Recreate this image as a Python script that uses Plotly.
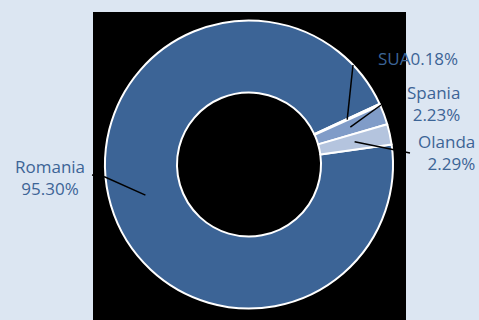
import math
import plotly.graph_objects as go

# date
tari = ['Romania', 'SUA', 'Spania', 'Olanda']
procente = [95.30, 0.18, 2.23, 2.29]
culori = ['#3C6496', '#DCE6F2', '#809CC8', '#B4C4DE']
etichete = ['Romania<br>95.30%', 'SUA0.18%', 'Spania<br>2.23%', 'Olanda<br>2.29%']

W, H = 479, 320
BG = '#DCE6F2'
TXT = '#3C6496'

# pie geometry in pixels
cx, cy, R = 249, 164.5, 144
rotatie = 82  # degrees clockwise from 12 o'clock

def px(x):
    return x / W

def py(y):
    return (H - y) / H

fig = go.Figure()
fig.add_trace(go.Pie(
    labels=tari,
    values=procente,
    hole=0.5,
    sort=False,
    direction='clockwise',
    rotation=rotatie,
    marker=dict(colors=culori, line=dict(color='white', width=2)),
    textinfo='none',
    hoverinfo='label+percent',
    showlegend=False,
    domain=dict(x=[px(cx - R), px(cx + R)], y=[py(cy + R), py(cy - R)]),
))

# black plot area behind the donut
shapes = [dict(type='rect', xref='paper', yref='paper', layer='below',
               x0=px(93), x1=px(406), y0=0, y1=py(12),
               fillcolor='black', line=dict(width=0))]

# leader lines: inner end at mid angle of each slice
total = sum(procente)
capete = {  # outer end (and optional elbow) of each leader line, pixels
    'Romania': [(105, 177), (92, 175)],
    'SUA': [(353, 65)],
    'Spania': [(381, 105)],
    'Olanda': [(410, 153)],
}
start = rotatie
for tara, v in zip(tari, procente):
    span = v / total * 360
    mid = math.radians(start + span / 2)
    start += span
    x0 = cx + 0.75 * R * math.sin(mid)
    y0 = cy - 0.75 * R * math.cos(mid)
    path = 'M %f,%f' % (px(x0), py(y0))
    for (x, y) in capete[tara]:
        path += ' L %f,%f' % (px(x), py(y))
    shapes.append(dict(type='path', xref='paper', yref='paper', layer='above',
                       path=path, line=dict(color='black', width=1.5)))

# label positions (center x, center y in pixels)
pozitii = {
    'Romania': (50, 177, 'center'),
    'SUA': (418, 59, 'center'),
    'Spania': (433, 103, 'right'),
    'Olanda': (446, 152, 'right'),
}
annotations = []
for tara, text in zip(tari, etichete):
    x, y, al = pozitii[tara]
    annotations.append(dict(
        x=px(x), y=py(y), xref='paper', yref='paper', text=text,
        showarrow=False, xanchor='center', yanchor='middle', align=al,
        font=dict(family='Open Sans', size=17, color=TXT),
    ))

fig.update_layout(
    width=W, height=H,
    margin=dict(l=0, r=0, t=0, b=0),
    paper_bgcolor=BG,
    plot_bgcolor=BG,
    shapes=shapes,
    annotations=annotations,
)

fig.write_html('out.html',
               config={'displayModeBar': False},
               post_script="document.body.style.margin='0';"
                           "document.body.style.overflow='hidden';")
